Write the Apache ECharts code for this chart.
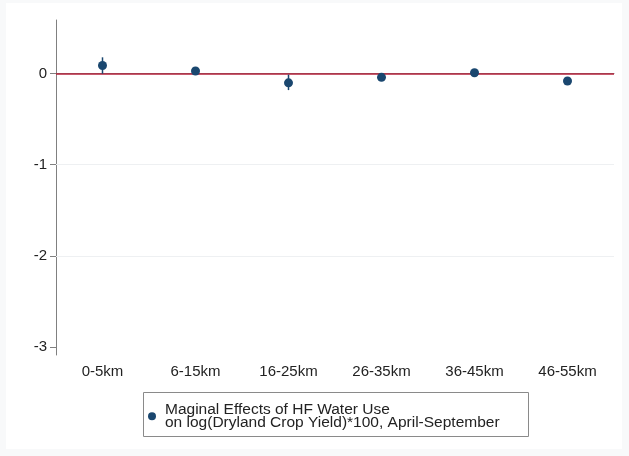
<!DOCTYPE html>
<html>
<head>
<meta charset="utf-8">
<script src="https://cdn.jsdelivr.net/npm/echarts@6/dist/echarts.min.js"></script>
<style>html,body{margin:0;padding:0;background:#fff}#c{width:629px;height:456px}</style>
</head>
<body>
<div id="c"></div>
<script>
const categories = ['0-5km', '6-15km', '16-25km', '26-35km', '36-45km', '46-55km'];
const estimates = [0.09, 0.03, -0.10, -0.04, 0.01, -0.08];
const lowerCI = [0.00, 0.01, -0.18, -0.06, -0.01, -0.10];
const upperCI = [0.18, 0.06, -0.01, -0.02, 0.03, -0.06];
const yTickValues = [0, -1, -2, -3];
const gridLineValues = [-1, -2];
const seriesName = 'Maginal Effects of HF Water Use\non log(Dryland Crop Yield)*100, April-September';

const FONT = '"Liberation Sans", Arial, sans-serif';
const NAVY = '#1a476f';

const chart = echarts.init(document.getElementById('c'), null, {renderer: 'canvas'});
chart.setOption({
  backgroundColor: '#f8f9fa',
  animation: false,
  textStyle: {fontFamily: FONT},
  graphic: [
    {type: 'rect', z: -10, shape: {x: 6, y: 3, width: 616, height: 446}, style: {fill: '#ffffff'}},
    {type: 'rect', z: 5, shape: {x: 143.5, y: 392.5, width: 385, height: 44}, style: {fill: 'none', stroke: '#8a8a8a', lineWidth: 1}}
  ],
  grid: {left: 56, right: 15, top: 20, bottom: 101, containLabel: false},
  legend: {
    left: 143, top: 392, orient: 'vertical',
    padding: [10, 20, 10, 5],
    itemWidth: 8, itemHeight: 8,
    data: [{name: seriesName, icon: 'circle', itemStyle: {color: NAVY, opacity: 1}}],
    textStyle: {fontFamily: FONT, fontSize: 15.5, lineHeight: 12.5, color: '#222', padding: [0, 0, 0, 4]}
  },
  xAxis: {
    type: 'category',
    data: categories,
    boundaryGap: true,
    axisLine: {lineStyle: {color: '#808080', width: 1}},
    axisTick: {alignWithLabel: true, length: 5, lineStyle: {color: '#808080'}},
    axisLabel: {fontFamily: FONT, fontSize: 15, color: '#222', margin: 9},
    splitLine: {show: false}
  },
  yAxis: {
    type: 'value',
    min: -3.09, max: 0.59,
    axisLine: {show: true, lineStyle: {color: '#808080', width: 1}},
    axisTick: {show: true, length: 6, lineStyle: {color: '#808080'}, customValues: yTickValues},
    axisLabel: {fontFamily: FONT, fontSize: 15, color: '#222', margin: 9, customValues: yTickValues},
    splitLine: {show: false}
  },
  series: [
    {
      type: 'custom',
      name: 'ci',
      silent: true,
      data: categories.map((c, i) => [i, lowerCI[i], upperCI[i]]),
      renderItem: function (params, api) {
        const p1 = api.coord([api.value(0), api.value(1)]);
        const p2 = api.coord([api.value(0), api.value(2)]);
        return {type: 'line', shape: {x1: p1[0], y1: p1[1], x2: p2[0], y2: p2[1]}, style: {stroke: NAVY, lineWidth: 1.5}};
      },
      z: 3
    },
    {
      type: 'scatter',
      name: seriesName,
      data: estimates,
      symbol: 'circle',
      symbolSize: 9,
      itemStyle: {color: NAVY, opacity: 1},
      z: 4,
      markLine: {
        silent: true,
        symbol: 'none',
        label: {show: false},
        z: 1,
        data: [
          ...gridLineValues.map(v => ({yAxis: v, lineStyle: {color: '#eef0f2', width: 1, type: 'solid'}})),
          {yAxis: 0, lineStyle: {color: '#b5223b', width: 1.5, type: 'solid'}}
        ]
      }
    }
  ]
});
</script>
</body>
</html>
